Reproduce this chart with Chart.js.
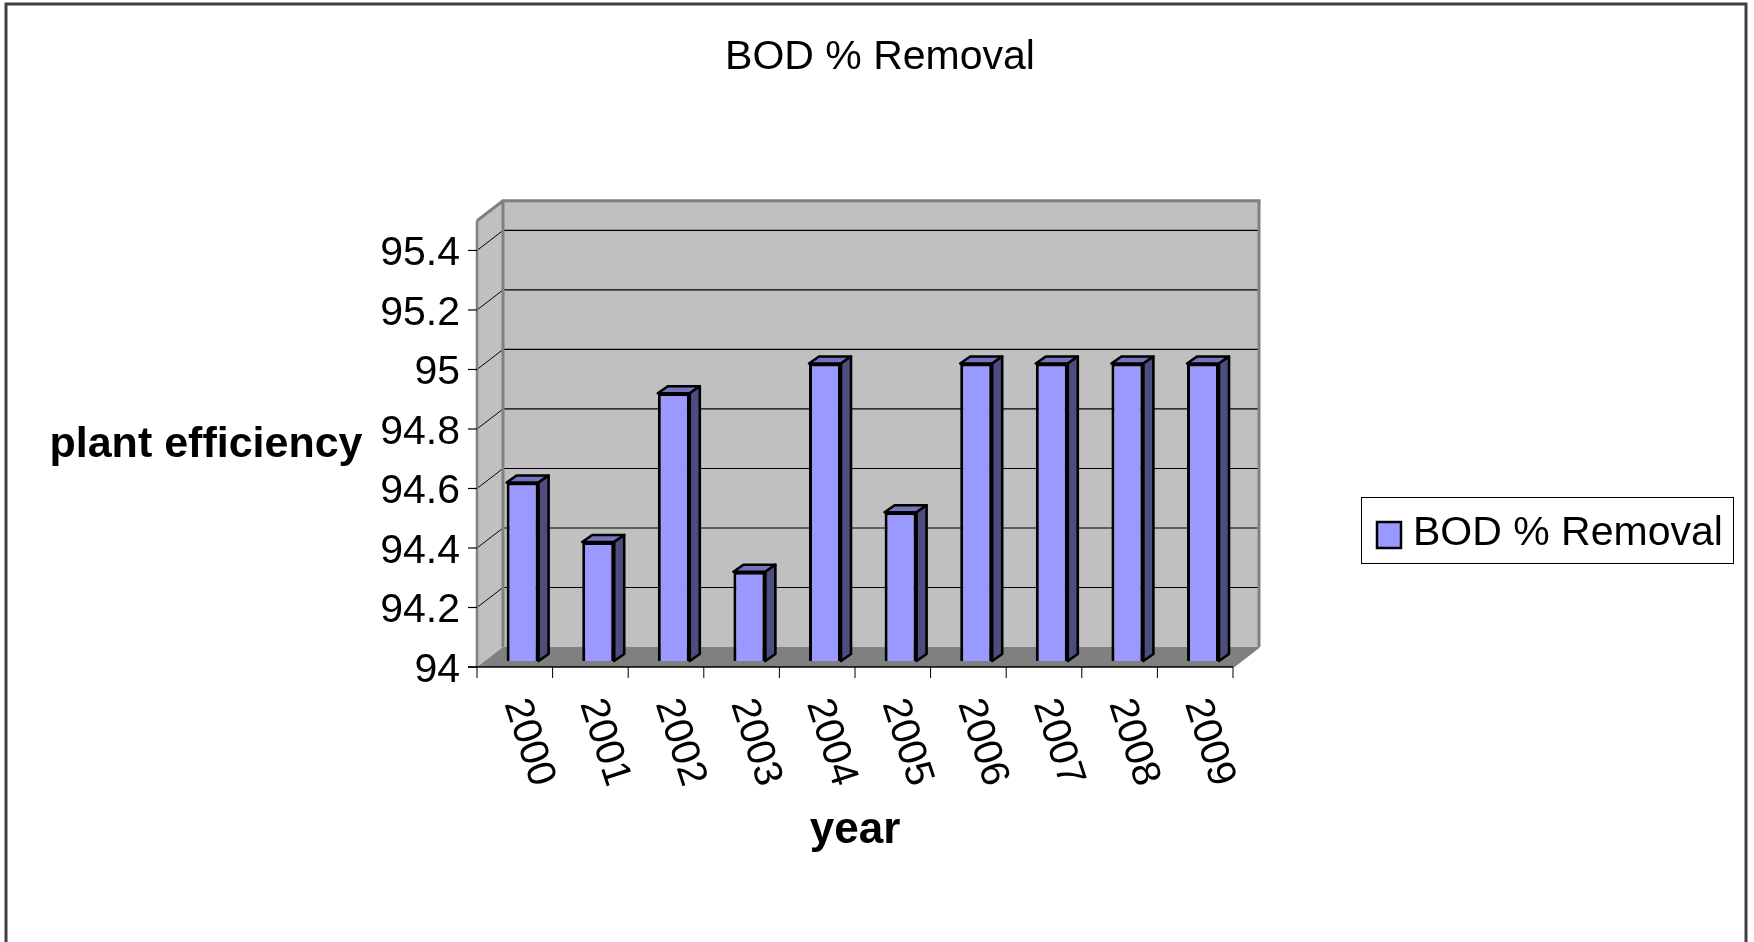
<!DOCTYPE html>
<html>
<head>
<meta charset="utf-8">
<title>BOD % Removal</title>
<script src="https://cdn.jsdelivr.net/npm/chart.js@4/dist/chart.umd.min.js"></script>
<style>
    body { margin: 0; background: #fff; }
    canvas { display: block; }
</style>
</head>
<body>
<canvas id="bodChart" width="1754" height="942"></canvas>
<script>
// --- Data ---
const years = ['2000', '2001', '2002', '2003', '2004', '2005', '2006', '2007', '2008', '2009'];
const bodRemoval = [94.6, 94.4, 94.9, 94.3, 95, 94.5, 95, 95, 95, 95];
const yTicks = [94, 94.2, 94.4, 94.6, 94.8, 95, 95.2, 95.4];
const yTickLabels = ['94', '94.2', '94.4', '94.6', '94.8', '95', '95.2', '95.4'];
const yMin = 94;
const yMax = 95.5;

// --- Look ---
const FONT = '"Liberation Sans", Arial, sans-serif';
const BAR_FRONT = '#9999FF';
const BAR_TOP = '#7373BF';
const BAR_SIDE = '#4D4D80';
const WALL = '#C0C0C0';
const FLOOR = '#808080';
const EDGE = '#808080';

// offsets of the front / back planes from the plane of the bar fronts
const FRONT = { dx: -7.8, dy: 6 };
const BACK = { dx: 18.2, dy: -14 };
const BAR_DEPTH = { dx: 10, dy: -7 };

function line(ctx, x1, y1, x2, y2, color, width) {
    ctx.beginPath();
    ctx.moveTo(x1, y1);
    ctx.lineTo(x2, y2);
    ctx.strokeStyle = color;
    ctx.lineWidth = width;
    ctx.stroke();
}

function poly(ctx, pts, fill, stroke, width) {
    ctx.beginPath();
    ctx.moveTo(pts[0][0], pts[0][1]);
    pts.slice(1).forEach(p => ctx.lineTo(p[0], p[1]));
    ctx.closePath();
    if (fill) { ctx.fillStyle = fill; ctx.fill(); }
    if (stroke) { ctx.strokeStyle = stroke; ctx.lineWidth = width; ctx.stroke(); }
}

// --- 3D walls, floor, grid and axes ---
const walls3d = {
    id: 'walls3d',
    beforeDatasetsDraw(chart) {
        const { ctx, chartArea: a, scales: { y } } = chart;
        const fl = a.left + FRONT.dx, fr = a.right + FRONT.dx;
        const bl = a.left + BACK.dx, br = a.right + BACK.dx;
        const topF = y.getPixelForValue(yMax) + FRONT.dy, botF = y.getPixelForValue(yMin) + FRONT.dy;
        const topB = y.getPixelForValue(yMax) + BACK.dy, botB = y.getPixelForValue(yMin) + BACK.dy;

        ctx.save();
        ctx.lineJoin = 'miter';
        // back wall
        ctx.fillStyle = WALL;
        ctx.fillRect(bl, topB, br - bl, botB - topB);
        // side wall
        poly(ctx, [[fl, topF], [bl, topB], [bl, botB], [fl, botF]], WALL);
        // floor
        poly(ctx, [[fl, botF], [bl, botB], [br, botB], [fr, botF]], FLOOR);

        // gridlines on the back wall and side wall
        yTicks.forEach(v => {
            if (v === yMin) return;
            const py = y.getPixelForValue(v);
            line(ctx, bl, py + BACK.dy, br, py + BACK.dy, '#000', 1.2);
            line(ctx, fl, py + FRONT.dy, bl, py + BACK.dy, '#000', 1);
        });

        // wall edges
        line(ctx, fl, topF, bl, topB, EDGE, 3);
        line(ctx, bl - 1, topB, br + 1.5, topB, EDGE, 3);
        line(ctx, br, topB, br, botB, EDGE, 3);
        line(ctx, bl, topB, bl, botB, EDGE, 3);
        line(ctx, br, botB, fr, botF, EDGE, 2);
        line(ctx, fl, topF, fl, botF, EDGE, 2.5);

        // y tick marks
        yTicks.forEach(v => {
            const py = y.getPixelForValue(v) + FRONT.dy;
            line(ctx, fl - 9, py, fl, py, '#000', 1.2);
        });

        // x axis line and category ticks
        line(ctx, fl - 9, botF, fr, botF, '#000', 1.5);
        const step = (a.right - a.left) / years.length;
        for (let i = 0; i <= years.length; i++) {
            const px = fl + i * step;
            line(ctx, px, botF, px, botF + 11, '#000', 1);
        }
        ctx.restore();
    },
    afterDatasetsDraw(chart) {
        const { ctx, scales: { y } } = chart;
        const meta = chart.getDatasetMeta(0);
        const b = y.getPixelForValue(yMin);
        ctx.save();
        ctx.lineJoin = 'round';
        meta.data.forEach(bar => {
            const l = bar.x - bar.width / 2, r = bar.x + bar.width / 2;
            const t = bar.y;
            const dx = BAR_DEPTH.dx, dy = BAR_DEPTH.dy;
            poly(ctx, [[l, t], [l + dx, t + dy], [r + dx, t + dy], [r, t]], BAR_TOP, '#000', 2.6);
            poly(ctx, [[r, t], [r + dx, t + dy], [r + dx, b + dy], [r, b]], BAR_SIDE, '#000', 2.6);
        });
        ctx.restore();
    },
    afterDraw(chart) {
        const { ctx, chartArea: a, scales: { y } } = chart;
        const fl = a.left + FRONT.dx;
        const step = (a.right - a.left) / years.length;
        ctx.save();
        ctx.fillStyle = '#000';

        // title
        ctx.font = '41px ' + FONT;
        ctx.textAlign = 'center';
        ctx.textBaseline = 'alphabetic';
        ctx.fillText('BOD % Removal', 880, 69);

        // y tick labels
        ctx.font = '41px ' + FONT;
        ctx.textAlign = 'right';
        yTicks.forEach((v, i) => {
            const py = y.getPixelForValue(v) + FRONT.dy;
            ctx.fillText(yTickLabels[i], 460, py + 15);
        });

        // x tick labels, rotated clockwise
        ctx.font = '40px ' + FONT;
        ctx.textAlign = 'left';
        ctx.textBaseline = 'middle';
        years.forEach((yr, i) => {
            ctx.save();
            ctx.translate(fl + (i + 0.5) * step, 700);
            ctx.rotate(72 * Math.PI / 180);
            ctx.fillText(yr, 0, 0);
            ctx.restore();
        });

        // axis titles
        ctx.textBaseline = 'alphabetic';
        ctx.textAlign = 'center';
        ctx.font = 'bold 43px ' + FONT;
        ctx.fillText('plant efficiency', 206, 457);
        ctx.font = 'bold 44px ' + FONT;
        ctx.fillText('year', 855, 843);

        // legend
        ctx.strokeStyle = '#000';
        ctx.lineWidth = 1;
        ctx.strokeRect(1361.5, 497.5, 372, 66);
        ctx.fillStyle = BAR_FRONT;
        ctx.fillRect(1377, 522, 24, 26);
        ctx.lineWidth = 2.5;
        ctx.strokeRect(1377, 522, 24, 26);
        ctx.fillStyle = '#000';
        ctx.font = '41px ' + FONT;
        ctx.textAlign = 'left';
        ctx.fillText(chart.data.datasets[0].label, 1413, 545);

        // outer frame
        ctx.strokeStyle = '#404040';
        ctx.lineWidth = 3;
        ctx.strokeRect(6, 4, 1740, 950);
        ctx.restore();
    }
};

// --- Chart ---
const chartCtx = document.getElementById('bodChart');
const bodChart = new Chart(chartCtx, {
    type: 'bar',
    data: {
        labels: years,
        datasets: [{
            label: 'BOD % Removal',
            data: bodRemoval,
            backgroundColor: BAR_FRONT,
            borderColor: '#000',
            borderWidth: 3,
            borderSkipped: false,
            barPercentage: 0.423,
            categoryPercentage: 1
        }]
    },
    options: {
        responsive: false,
        animation: false,
        layout: { padding: { left: 484.8, right: 513.2, top: 214.7, bottom: 281 } },
        plugins: {
            legend: { display: false },
            title: { display: false },
            tooltip: { enabled: false }
        },
        scales: {
            x: { display: false },
            y: { display: false, min: yMin, max: yMax }
        }
    },
    plugins: [walls3d]
});
</script>
</body>
</html>
